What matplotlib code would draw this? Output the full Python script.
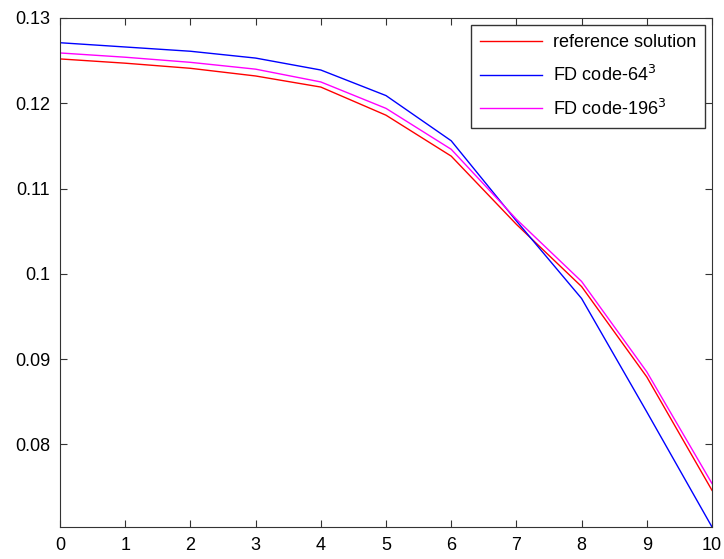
import matplotlib
matplotlib.use('Agg')
import matplotlib.pyplot as plt

plt.rcParams['font.family'] = ['Liberation Sans', 'DejaVu Sans']

# values
x = [0, 1, 2, 3, 4, 5, 6, 7, 8, 9, 10]
reference = [0.1252, 0.1247, 0.1241, 0.1232, 0.1219, 0.1186, 0.1138, 0.1058, 0.0985, 0.0879, 0.0746]
fd_64 = [0.1271, 0.1266, 0.1261, 0.1253, 0.1239, 0.1209, 0.1156, 0.1062, 0.0971, 0.0838, 0.0703]
fd_196 = [0.1259, 0.1254, 0.1248, 0.1240, 0.1225, 0.1194, 0.1146, 0.1064, 0.0991, 0.0885, 0.0754]

fig = plt.figure(figsize=(7.24, 5.59), dpi=100)
ax = fig.add_axes([60 / 724, 1 - 527 / 559, 652 / 724, 509 / 559])

ax.plot(x, reference, color='#ff0000', linewidth=1, label='reference solution')
ax.plot(x, fd_64, color='#0000ff', linewidth=1, label='FD code-64$^3$')
ax.plot(x, fd_196, color='#ff00ff', linewidth=1, label='FD code-196$^3$')

ax.set_xlim(0, 10)
ax.set_ylim(0.0703, 0.13)
ax.set_xticks(range(0, 11))
ax.set_yticks([0.08, 0.09, 0.1, 0.11, 0.12, 0.13])
ax.set_yticklabels(['0.08', '0.09', '0.1', '0.11', '0.12', '0.13'])
ax.tick_params(direction='in', top=True, right=True, length=5, labelsize=13,
               color='#333333', pad=7)
for s in ax.spines.values():
    s.set_color('#333333')

leg = ax.legend(loc='upper right', fontsize=13, fancybox=False, framealpha=1,
                edgecolor='#333333', handlelength=3.4, handletextpad=0.6,
                labelspacing=0.75, borderpad=0.5, borderaxespad=0.4)
leg.get_frame().set_linewidth(1)

plt.savefig('out.png', dpi=100)
